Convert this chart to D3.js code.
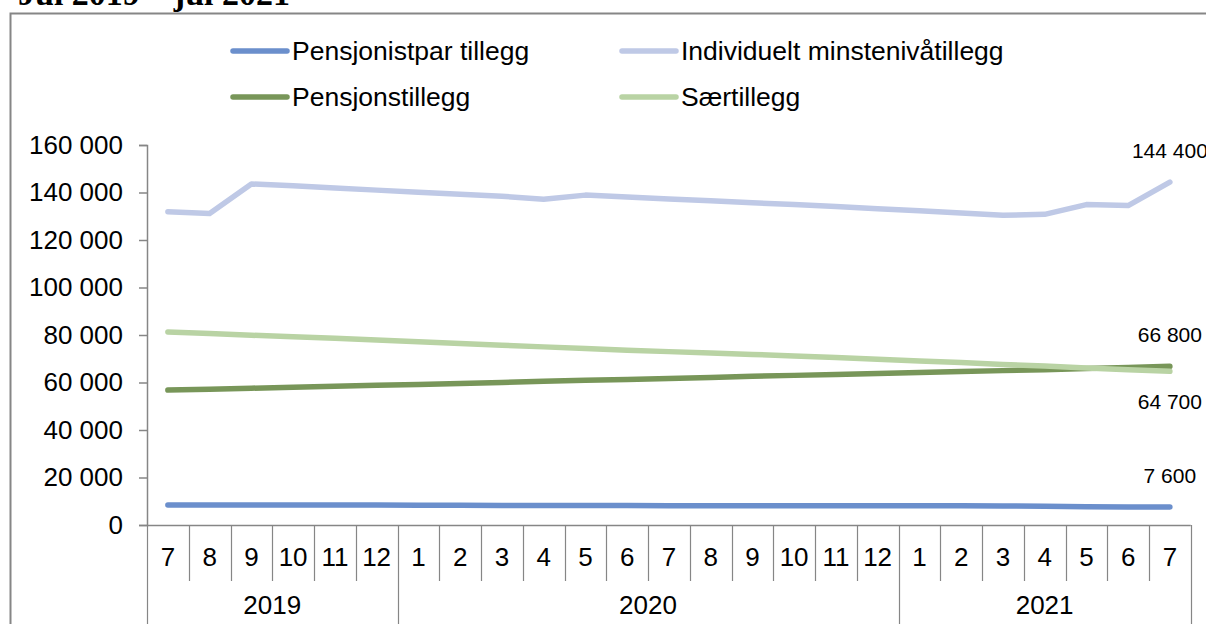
<!DOCTYPE html>
<html lang="en">
<head>
<meta charset="utf-8">
<title>Tillegg juli 2019 - juli 2021</title>
<script src="https://cdn.jsdelivr.net/npm/d3@7"></script>
<style>
  body { margin: 0; background: #fff; }
  text { font-family: "Liberation Sans", Arial, sans-serif; fill: #000; }
</style>
</head>
<body>
<script>

// month labels along the axis, and the years they belong to
var months = [7, 8, 9, 10, 11, 12, 1, 2, 3, 4, 5, 6, 7, 8, 9, 10, 11, 12, 1, 2, 3, 4, 5, 6, 7];
var years = [
  {label: "2019", from: 0, to: 6},
  {label: "2020", from: 6, to: 18},
  {label: "2021", from: 18, to: 25}
];
var yTicks = [0, 20000, 40000, 60000, 80000, 100000, 120000, 140000, 160000];

// series values (kroner)
var pensjonistpar = [8400, 8400, 8400, 8400, 8400, 8400, 8300, 8300, 8200, 8200, 8200, 8200, 8100,
  8100, 8100, 8100, 8100, 8100, 8100, 8100, 8000, 7900, 7700, 7600, 7600];
var individuelt = [131900, 131200, 143600, 142800, 141900, 141000, 140100, 139300, 138400, 137200,
  138900, 138100, 137300, 136500, 135700, 134900, 134100, 133200, 132300, 131400, 130400, 130800,
  134900, 134500, 144400];
var pensjonstillegg = [56800, 57200, 57600, 58000, 58400, 58800, 59200, 59600, 60000, 60500, 60900,
  61300, 61700, 62100, 62600, 63000, 63400, 63800, 64200, 64600, 65000, 65400, 65900, 66300, 66800];
var saertillegg = [81300, 80600, 79900, 79300, 78600, 77900, 77200, 76400, 75700, 75000, 74300,
  73600, 73000, 72400, 71800, 71200, 70500, 69800, 69100, 68400, 67600, 66900, 66100, 65400, 64700];

var series = [
  {name: "Pensjonistpar tillegg", values: pensjonistpar, color: "#6b8fcc", labelDy: -24},
  {name: "Individuelt minstenivåtillegg", values: individuelt, color: "#bfc9e6", labelDy: -24},
  {name: "Pensjonstillegg", values: pensjonstillegg, color: "#789659", labelDy: -24},
  {name: "Særtillegg", values: saertillegg, color: "#b9d3a4", labelDy: 38}
];

var width = 1206, height = 624;
var axisColor = "#868686";

var svg = d3.select("body").append("svg")
  .attr("width", width)
  .attr("height", height);

// frame around the chart
svg.append("rect")
  .attr("x", 10.5).attr("y", 13.5)
  .attr("width", width + 20).attr("height", height + 20)
  .attr("fill", "none")
  .attr("stroke", axisColor)
  .attr("stroke-width", 2);

// title, cut off at the top edge as in the source
svg.append("text")
  .attr("x", 18).attr("y", 5)
  .style("font-family", "'Liberation Serif', 'Times New Roman', serif")
  .style("font-weight", "bold")
  .style("font-size", "34px")
  .text("Jul 2019 – jul 2021");

var x = d3.scaleBand()
  .domain(d3.range(months.length))
  .range([147, 1190.75])
  .padding(0);

var y = d3.scaleLinear()
  .domain([0, 160000])
  .range([525, 145]);

function cx(i) { return x(i) + x.bandwidth() / 2; }

var fmt = function(v) { return d3.format(",")(v).replace(/,/g, " "); };

// y axis
var yAxis = d3.axisLeft(y).tickValues(yTicks).tickSize(8).tickPadding(16).tickFormat(fmt);
var gy = svg.append("g").attr("transform", "translate(147,0)").call(yAxis);
gy.select(".domain").attr("stroke", axisColor).attr("stroke-width", 1.5);
gy.selectAll(".tick line").attr("stroke", axisColor).attr("stroke-width", 1.5);
gy.selectAll(".tick text")
  .style("font-family", "'Liberation Sans', Arial, sans-serif")
  .style("font-size", "26px")
  .attr("fill", "#000");

// x axis line
svg.append("line")
  .attr("x1", 147).attr("x2", x.range()[1])
  .attr("y1", 525.5).attr("y2", 525.5)
  .attr("stroke", axisColor).attr("stroke-width", 1.5);

// separators between months; year boundaries run to the bottom
var bounds = d3.range(months.length + 1);
var yearEdges = years.map(function(d) { return d.from; }).concat([months.length]);
svg.append("g").selectAll("line")
  .data(bounds)
  .enter().append("line")
  .attr("x1", function(i) { return Math.round(147 + i * x.bandwidth()) + 0.5; })
  .attr("x2", function(i) { return Math.round(147 + i * x.bandwidth()) + 0.5; })
  .attr("y1", 525)
  .attr("y2", function(i) { return yearEdges.indexOf(i) >= 0 ? height : 581; })
  .attr("stroke", axisColor)
  .attr("stroke-width", 1.2);

svg.append("g").selectAll("text")
  .data(months)
  .enter().append("text")
  .attr("x", function(d, i) { return cx(i); })
  .attr("y", 566)
  .attr("text-anchor", "middle")
  .style("font-size", "26px")
  .text(function(d) { return d; });

svg.append("g").selectAll("text")
  .data(years)
  .enter().append("text")
  .attr("x", function(d) { return 147 + (d.from + d.to) / 2 * x.bandwidth(); })
  .attr("y", 614)
  .attr("text-anchor", "middle")
  .style("font-size", "26px")
  .text(function(d) { return d.label; });

// lines
var line = d3.line()
  .x(function(d, i) { return cx(i); })
  .y(function(d) { return y(d); });

svg.append("g").selectAll("path")
  .data(series)
  .enter().append("path")
  .attr("d", function(d) { return line(d.values); })
  .attr("fill", "none")
  .attr("stroke", function(d) { return d.color; })
  .attr("stroke-width", 5.5)
  .attr("stroke-linecap", "round")
  .attr("stroke-linejoin", "round");

// end value labels
svg.append("g").selectAll("text")
  .data(series)
  .enter().append("text")
  .attr("x", cx(months.length - 1))
  .attr("y", function(d) { return y(d.values[d.values.length - 1]) + d.labelDy; })
  .attr("text-anchor", "middle")
  .style("font-size", "21px")
  .text(function(d) { return fmt(d.values[d.values.length - 1]); });

// legend, two columns
var legendPos = [
  {x: 233, y: 51}, {x: 622, y: 51},
  {x: 233, y: 97}, {x: 622, y: 97}
];
var lg = svg.append("g").selectAll("g")
  .data(series)
  .enter().append("g")
  .attr("transform", function(d, i) { return "translate(" + legendPos[i].x + "," + legendPos[i].y + ")"; });
lg.append("line")
  .attr("x1", 0).attr("x2", 54)
  .attr("stroke", function(d) { return d.color; })
  .attr("stroke-width", 5.5)
  .attr("stroke-linecap", "round");
lg.append("text")
  .attr("x", 59)
  .attr("dy", "0.35em")
  .style("font-size", "26.5px")
  .text(function(d) { return d.name; });

</script>
</body>
</html>
